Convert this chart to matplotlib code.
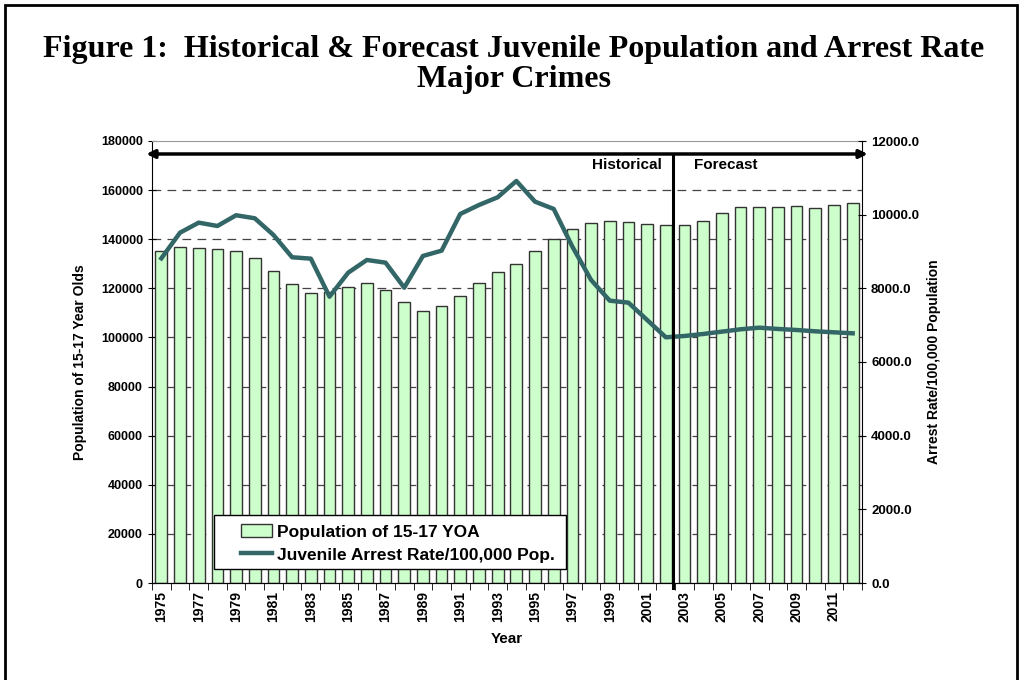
import matplotlib
matplotlib.use("Agg")
import matplotlib.pyplot as plt
import numpy as np
from matplotlib.patches import Rectangle
from matplotlib.lines import Line2D
from matplotlib.ticker import MultipleLocator, FixedLocator

years = list(range(1975, 2013))
population = [135300, 136700, 136500, 136100, 135000, 132500, 127200, 121900, 118200, 118500,
              120600, 122300, 119300, 114500, 110600, 112900, 116900, 122100, 126500, 130000,
              135200, 139900, 144000, 146500, 147500, 146900, 146200, 145900, 145900, 147500,
              150500, 153000, 153100, 153100, 153400, 152800, 153900, 154700]
arrest_rate = [8815, 9511, 9783, 9693, 9984, 9902, 9449, 8843, 8806, 7774,
               8425, 8770, 8697, 8018, 8879, 9023, 10019, 10263, 10472, 10915,
               10353, 10155, 9131, 8227, 7665, 7611, 7141, 6671, 6706, 6761,
               6824, 6888, 6932, 6897, 6869, 6833, 6806, 6779]
forecast_start = 2003

plt.rcParams['font.family'] = ['Liberation Sans', 'DejaVu Sans']
plt.rcParams['font.weight'] = 'bold'

fig = plt.figure(figsize=(10.21, 6.8), dpi=100)
fig.patches.append(Rectangle((5/1021, -0.05), 1012/1021, 1.05 - 5/680, transform=fig.transFigure,
                             fill=False, edgecolor='black', linewidth=2))

fig.text(0.503, 1 - 49/680, "Figure 1:  Historical & Forecast Juvenile Population and Arrest Rate",
         ha='center', va='center', fontsize=23, fontweight='bold', family='Liberation Serif')
fig.text(0.503, 1 - 80/680, "Major Crimes",
         ha='center', va='center', fontsize=23, fontweight='bold', family='Liberation Serif')

ax = fig.add_axes([152/1021, 1 - 583/680, 710/1021, 442/680])
x = np.arange(len(years))
ax.bar(x, population, width=0.63, color='#ccffcc', edgecolor='#333333', linewidth=1.0, zorder=2)
ax.set_xlim(-0.5, len(years) - 0.5)
ax.set_ylim(0, 180000)
ax.yaxis.set_major_locator(MultipleLocator(20000))
for v in range(20000, 180000, 20000):
    ax.axhline(v, color='#444444', linestyle=(0, (7, 5)), linewidth=0.9, zorder=1)
ax.spines['top'].set_color('#999999')
ax.spines['right'].set_visible(False)
ax.set_xticks(x[::2])
ax.set_xticklabels([str(y) for y in years[::2]], rotation=90, fontsize=10, fontweight='bold')
ax.xaxis.set_minor_locator(FixedLocator(np.arange(-0.5, len(years), 1)))
ax.tick_params(axis='x', which='major', length=0, pad=6)
ax.tick_params(axis='x', which='minor', length=5, direction='out')
ax.tick_params(axis='y', length=6, direction='inout', labelsize=9)
ax.set_ylabel("Population of 15-17 Year Olds", fontsize=10, fontweight='bold', labelpad=10)
ax.set_xlabel("Year", fontsize=11, fontweight='bold', labelpad=7)

ax2 = ax.twinx()
ax2.plot(x, arrest_rate, color='#336666', linewidth=3.2, zorder=3)
ax2.set_ylim(0, 12000)
ax2.set_yticks(np.arange(0, 12001, 2000))
ax2.set_yticklabels([f"{v:.1f}" for v in np.arange(0, 12001, 2000)])
ax2.tick_params(axis='y', length=6, direction='inout', labelsize=9.5)
ax2.spines['top'].set_visible(False)
ax2.spines['left'].set_visible(False)
ax2.set_ylabel("Arrest Rate/100,000 Population", fontsize=10, fontweight='bold', labelpad=6)

# historical / forecast divider
div = years.index(forecast_start) - 0.61
ax2.plot([div, div], [-0.012, 0.97], color='black', linewidth=2.2,
         transform=ax2.get_xaxis_transform(), clip_on=False, zorder=4)
ax2.annotate("", xy=(1.008, 0.9706), xytext=(-0.008, 0.9706), xycoords='axes fraction',
             arrowprops=dict(arrowstyle='<|-|>', color='black', lw=2.5,
                             mutation_scale=12, shrinkA=0, shrinkB=0))
ax2.text(div - 0.6, 0.945, "Historical", transform=ax2.get_xaxis_transform(),
         ha='right', va='center', fontsize=11, fontweight='bold')
ax2.text(div + 1.1, 0.945, "Forecast", transform=ax2.get_xaxis_transform(),
         ha='left', va='center', fontsize=11, fontweight='bold')

# legend: separate frame so the entries sit indented like the original
ax2.add_patch(Rectangle((62/710, 14/442), 352/710, 54/442, transform=ax2.transAxes,
                        facecolor='white', edgecolor='black', linewidth=1.0, zorder=5))
handles = [Rectangle((0, 0), 1, 1, facecolor='#ccffcc', edgecolor='#333333', linewidth=1.0),
           Line2D([0], [0], color='#336666', linewidth=3.2)]
leg = ax2.legend(handles, ["Population of 15-17 YOA", "Juvenile Arrest Rate/100,000 Pop."],
                 loc='center left', bbox_to_anchor=(89/710, 39.5/442), frameon=False,
                 handlelength=1.8, handletextpad=0.25, borderaxespad=0, borderpad=0,
                 labelspacing=0.45, prop={'weight': 'bold', 'size': 12.5})
leg.set_zorder(6)

fig.savefig("out.png", dpi=100)
